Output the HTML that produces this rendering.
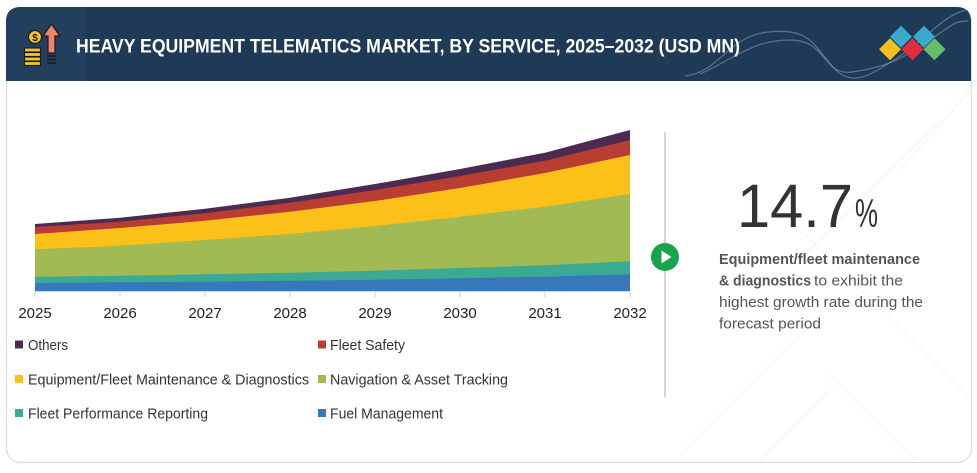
<!DOCTYPE html>
<html><head><meta charset="utf-8"><style>
html,body{margin:0;padding:0;background:#fff;}
svg{display:block;}
text{font-family:"Liberation Sans",Arial,sans-serif;}
</style></head><body>
<svg width="977" height="473" viewBox="0 0 977 473" xmlns="http://www.w3.org/2000/svg">
<rect x="0" y="0" width="977" height="473" fill="#fff"/>
<!-- card -->
<rect x="6.5" y="7.5" width="965" height="455" rx="14" fill="#fff" stroke="#dcdcdc" stroke-width="1.2"/>
<!-- watermark lines -->
<g stroke="#f4f4f4" stroke-width="1" fill="none">
<line x1="940" y1="120" x2="800" y2="260"/>
<line x1="800" y1="230" x2="972" y2="400"/>
<line x1="680" y1="455" x2="830" y2="305"/>
<line x1="830" y1="375" x2="915" y2="460"/>
<line x1="760" y1="460" x2="830" y2="390"/>
<line x1="975" y1="85" x2="900" y2="170"/>
</g>
<!-- header -->
<path d="M6 81 L6 22 Q6 7 21 7 L957 7 Q971 7 971 22 L971 81 Z" fill="#1e3a57"/>
<path d="M6 81 L6 22 Q6 7 21 7 L86 7 L86 81 Z" fill="#22405d"/>
<g stroke="#8aa3bb" stroke-opacity="0.55" stroke-width="1.2" fill="none">
<path d="M685 76 C720 72 728 36 768 32 S812 42 832 66 S872 74 900 56 S942 16 966 10"/>
<path d="M700 74 C732 60 752 40 790 40 S822 76 852 72 S902 60 930 40 S956 22 968 21"/>
</g>
<!-- icon -->
<g stroke="#1a1a1a" stroke-width="1.2">
<rect x="24.5" y="48" width="16" height="4" fill="#f6c523"/>
<rect x="24.5" y="52.5" width="16" height="4" fill="#f6c523"/>
<rect x="24.5" y="57" width="16" height="4" fill="#f6c523"/>
<rect x="24.5" y="61.5" width="16" height="4" fill="#f6c523"/>
<circle cx="35" cy="37" r="6.5" fill="#f6c523"/>
<path d="M48 53 L48 36 L43 36 L51.5 24 L60 36 L55 36 L55 53 Z" fill="#f08566"/>
</g>
<text x="35" y="41" font-size="10" font-weight="bold" fill="#1a1a1a" text-anchor="middle">$</text>
<g stroke="#1a1a1a" stroke-width="1.5">
<line x1="47" y1="56" x2="56" y2="56"/><line x1="47" y1="59.5" x2="56" y2="59.5"/><line x1="47" y1="63" x2="56" y2="63"/>
</g>
<text x="76" y="52.5" font-size="19" font-weight="bold" fill="#fff" textLength="664" lengthAdjust="spacingAndGlyphs">HEAVY EQUIPMENT TELEMATICS MARKET, BY SERVICE, 2025–2032 (USD MN)</text>
<!-- logo -->
<g>
<polygon points="901,25.7 912,36.7 901,47.7 890,36.7" fill="#3aabcf"/>
<polygon points="924,25.7 935,36.7 924,47.7 913,36.7" fill="#3aabcf"/>
<polygon points="890,38.3 901,49.3 890,60.3 879,49.3" fill="#f4bf1f"/>
<polygon points="912.5,38.3 923.5,49.3 912.5,60.3 901.5,49.3" fill="#e52a3e"/>
<polygon points="934.5,38.3 945.5,49.3 934.5,60.3 923.5,49.3" fill="#69bd6a"/>
</g>
<!-- chart areas -->
<polygon fill="#4b2c50" points="35,224 120,217.7 205,208.7 290,197.7 375,184 460,169 545,152.7 630,130 630,291 35,291"/>
<polygon fill="#b93d32" points="35,227 120,221.7 205,213.2 290,202.7 375,190 460,176 545,160.7 630,140 630,291 35,291"/>
<polygon fill="#fcc118" points="35,234 120,228 205,220.7 290,211.7 375,201 460,188 545,173 630,155 630,291 35,291"/>
<polygon fill="#a1ba53" points="35,249.3 120,245.7 205,240 290,234 375,226 460,216.7 545,206.7 630,194 630,291 35,291"/>
<polygon fill="#3aaa93" points="35,276.7 120,275.7 205,274.3 290,272.7 375,270.7 460,268 545,265.3 630,261.3 630,291 35,291"/>
<polygon fill="#3878b8" points="35,283 120,282.3 205,281.7 290,280.7 375,279.7 460,278.3 545,276.7 630,274.3 630,291 35,291"/>
<line x1="35" y1="291.5" x2="630" y2="291.5" stroke="#d8d8d8" stroke-width="1"/>
<g stroke="#cfcfcf" stroke-width="1">
<line x1="35" y1="291" x2="35" y2="297"/><line x1="120" y1="291" x2="120" y2="297"/><line x1="205" y1="291" x2="205" y2="297"/><line x1="290" y1="291" x2="290" y2="297"/><line x1="375" y1="291" x2="375" y2="297"/><line x1="460" y1="291" x2="460" y2="297"/><line x1="545" y1="291" x2="545" y2="297"/><line x1="630" y1="291" x2="630" y2="297"/>
</g>
<g font-size="15" fill="#222" text-anchor="middle">
<text x="35" y="318">2025</text><text x="120" y="318">2026</text><text x="205" y="318">2027</text><text x="290" y="318">2028</text><text x="375" y="318">2029</text><text x="460" y="318">2030</text><text x="545" y="318">2031</text><text x="630" y="318">2032</text>
</g>
<!-- legend -->
<rect x="15" y="340.5" width="8" height="8" fill="#4b2c50"/>
<rect x="318" y="340.5" width="8" height="8" fill="#b93d32"/>
<rect x="15" y="375" width="8" height="8" fill="#fcc118"/>
<rect x="318" y="375" width="8" height="8" fill="#a1ba53"/>
<rect x="15" y="409" width="8" height="8" fill="#3aaa93"/>
<rect x="318" y="409" width="8" height="8" fill="#3878b8"/>
<g font-size="15" fill="#333">
<text x="28" y="350" textLength="40" lengthAdjust="spacingAndGlyphs">Others</text>
<text x="330" y="350" textLength="75" lengthAdjust="spacingAndGlyphs">Fleet Safety</text>
<text x="28" y="384.5" textLength="281" lengthAdjust="spacingAndGlyphs">Equipment/Fleet Maintenance &amp; Diagnostics</text>
<text x="330" y="384.5" textLength="178" lengthAdjust="spacingAndGlyphs">Navigation &amp; Asset Tracking</text>
<text x="28" y="418.5" textLength="180" lengthAdjust="spacingAndGlyphs">Fleet Performance Reporting</text>
<text x="330" y="418.5" textLength="113" lengthAdjust="spacingAndGlyphs">Fuel Management</text>
</g>
<!-- divider -->
<line x1="665" y1="132" x2="665" y2="397" stroke="#c8c8c8" stroke-width="1.5"/>
<circle cx="665" cy="257" r="14" fill="#16a54b"/>
<polygon points="661.5,250.5 661.5,263.5 671.5,257" fill="#fff"/>
<!-- right panel -->
<text x="737" y="227" font-size="61" fill="#333" textLength="116" lengthAdjust="spacingAndGlyphs">14.7</text>
<text x="855" y="227" font-size="40" fill="#333" textLength="23" lengthAdjust="spacingAndGlyphs">%</text>
<g font-size="15" fill="#555">
<text x="719" y="264" font-weight="bold" textLength="201" lengthAdjust="spacingAndGlyphs">Equipment/fleet maintenance</text>
<text x="719" y="285.7" font-weight="bold" textLength="92" lengthAdjust="spacingAndGlyphs">&amp; diagnostics</text>
<text x="814" y="285.7" textLength="89" lengthAdjust="spacingAndGlyphs">to exhibit the</text>
<text x="719" y="307" textLength="204" lengthAdjust="spacingAndGlyphs">highest growth rate during the</text>
<text x="719" y="328.3" textLength="102" lengthAdjust="spacingAndGlyphs">forecast period</text>
</g>
</svg>
</body></html>
